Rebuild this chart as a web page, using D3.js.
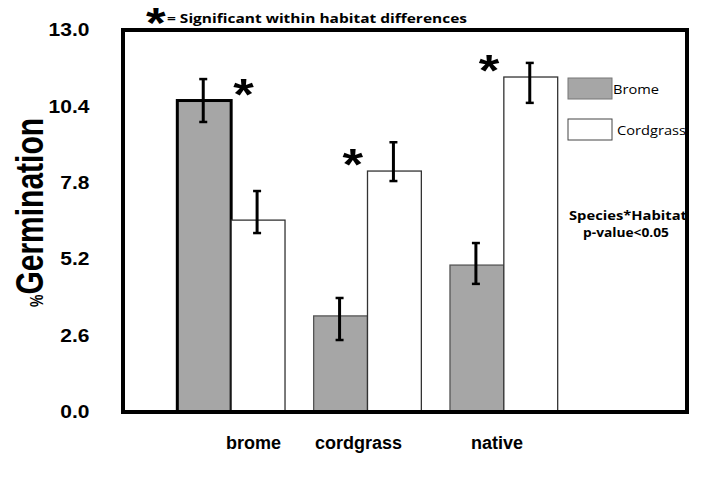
<!DOCTYPE html>
<html>
<head>
<meta charset="utf-8">
<script src="https://cdn.jsdelivr.net/npm/d3@7"></script>
<style>
    body { margin: 0; background: #fff; }
    svg { display: block; }
</style>
</head>
<body>
<script>
(function () {

    // data
    const categories = ['brome', 'cordgrass', 'native'];
    const series = ['Brome', 'Cordgrass'];
    const bromeMeans = [10.6, 3.27, 5.0];
    const cordgrassMeans = [6.53, 8.2, 11.4];
    const bromeUpper = [11.33, 3.88, 5.75];
    const bromeLower = [9.87, 2.45, 4.36];
    const cordgrassUpper = [7.52, 9.18, 11.88];
    const cordgrassLower = [6.09, 7.86, 10.52];
    const significant = [true, true, true];
    const yTicks = [0, 2.6, 5.2, 7.8, 10.4, 13.0];

    const W = 701, H = 481;
    const margin = {top: 30, right: 12, bottom: 69, left: 123};
    const width = W - margin.left - margin.right,
        height = H - margin.top - margin.bottom;
    const stretch = 1.2; // the original is a little wide
    const arial = '"Liberation Sans", Arial, sans-serif';
    const calibri = '"Open Sans", "Noto Sans", sans-serif';

    const rows = categories.map((c, i) => ({
        cat: c,
        bars: [
            {s: 'Brome', v: bromeMeans[i], hi: bromeUpper[i], lo: bromeLower[i]},
            {s: 'Cordgrass', v: cordgrassMeans[i], hi: cordgrassUpper[i], lo: cordgrassLower[i]}
        ],
        sig: significant[i]
    }));

    const svg = d3.select('body')
        .append('svg')
        .attr('width', W)
        .attr('height', H)
        .append('g')
        .attr('transform', 'translate(' + margin.left + ', ' + margin.top + ')');

    const scaleX = d3.scaleBand()
        .domain(categories)
        .range([40, 449])
        .paddingInner(0.21)
        .paddingOuter(0.105);

    const scaleSub = d3.scaleBand()
        .domain(series)
        .range([0, scaleX.bandwidth()]);

    // category labels sit on their own, slightly tighter spacing
    const scaleLabel = d3.scalePoint()
        .domain(categories)
        .range([158, 400]);

    const scaleY = d3.scaleLinear()
        .domain([0, 13])
        .range([height, 0]);

    // y axis (labels only, frame drawn later)
    const y_axis = d3.axisLeft()
        .scale(scaleY)
        .tickValues(yTicks)
        .tickFormat(d3.format('.1f'))
        .tickSize(0)
        .tickPadding(28);

    const yg = svg.append('g').call(y_axis);
    yg.select('.domain').remove();
    yg.selectAll('text')
        .attr('font-family', arial)
        .attr('font-weight', 'bold')
        .attr('font-size', 17.5)
        .attr('fill', '#000')
        .attr('transform', 'scale(' + stretch + ',1)');

    // bars
    const groups = svg.selectAll('.grp')
        .data(rows)
        .enter().append('g')
        .attr('class', 'grp')
        .attr('transform', d => 'translate(' + scaleX(d.cat) + ',0)');

    groups.selectAll('rect')
        .data(d => d.bars.map(b => Object.assign({cat: d.cat}, b)))
        .enter().append('rect')
        .attr('x', d => scaleSub(d.s))
        .attr('y', d => scaleY(d.v))
        .attr('width', scaleSub.bandwidth())
        .attr('height', d => height - scaleY(d.v))
        .attr('fill', d => d.s === 'Brome' ? '#a6a6a6' : '#fff')
        .attr('stroke', d => d.s === 'Brome' ? (d.cat === 'brome' ? '#000' : '#555') : '#333')
        .attr('stroke-width', d => d.s === 'Brome' && d.cat === 'brome' ? 3 : 1.3);

    // error bars
    const err = groups.selectAll('.err')
        .data(d => d.bars)
        .enter().append('g')
        .attr('class', 'err')
        .attr('transform', d => 'translate(' + (scaleSub(d.s) + scaleSub.bandwidth() / 2 - 1) + ',0)');

    err.append('line')
        .attr('y1', d => scaleY(d.hi))
        .attr('y2', d => scaleY(d.lo))
        .attr('stroke', '#000')
        .attr('stroke-width', 3);

    err.selectAll('.cap')
        .data(d => [d.hi, d.lo])
        .enter().append('line')
        .attr('x1', -4).attr('x2', 4)
        .attr('y1', d => scaleY(d))
        .attr('y2', d => scaleY(d))
        .attr('stroke', '#000')
        .attr('stroke-width', 2.5);

    // significance asterisks beside the taller bar
    groups.filter(d => d.sig).each(function (d) {
        const top = d.bars[0].v >= d.bars[1].v ? d.bars[0] : d.bars[1];
        const first = top === d.bars[0];
        const ax = first ? scaleSub(top.s) + scaleSub.bandwidth() + 2 : scaleSub(top.s) - 25;
        const ay = scaleY(top.v) - 11;
        d3.select(this).append('text')
            .attr('transform', 'translate(' + ax + ',' + (ay + 20) + ') scale(' + stretch + ',1)')
            .attr('font-family', arial)
            .attr('font-weight', 'bold')
            .attr('font-size', 44)
            .text('*');
    });

    // frame
    svg.append('rect')
        .attr('x', 0).attr('y', 0)
        .attr('width', width - 2).attr('height', height)
        .attr('fill', 'none')
        .attr('stroke', '#000')
        .attr('stroke-width', 4);

    // category labels
    svg.selectAll('.xlab')
        .data(categories)
        .enter().append('text')
        .attr('class', 'xlab')
        .attr('x', d => scaleLabel(d))
        .attr('y', height + 37)
        .attr('text-anchor', 'end')
        .attr('font-family', arial)
        .attr('font-weight', 'bold')
        .attr('font-size', 18)
        .text(d => d);

    // y title
    const yt = svg.append('text')
        .attr('transform', 'translate(' + (43 - margin.left) + ',' + (307 - margin.top) + ') scale(1.3,1) rotate(-90)')
        .attr('font-family', arial)
        .attr('font-weight', 'bold');
    yt.append('tspan').attr('font-size', 14).text('%');
    yt.append('tspan').attr('font-size', 30).text('Germination');

    // legend
    const legend = svg.selectAll('.leg')
        .data(series)
        .enter().append('g')
        .attr('class', 'leg')
        .attr('transform', (d, i) => 'translate(445,' + (48 + i * 41) + ')');

    legend.append('rect')
        .attr('width', 44).attr('height', 21)
        .attr('fill', d => d === 'Brome' ? '#a6a6a6' : '#fff')
        .attr('stroke', d => d === 'Brome' ? '#777' : '#444')
        .attr('stroke-width', 1);

    legend.append('text')
        .attr('x', (d, i) => i === 0 ? 45 : 49)
        .attr('y', 16)
        .attr('font-family', calibri)
        .attr('font-size', 13)
        .attr('textLength', (d, i) => i === 0 ? 46 : 69)
        .attr('lengthAdjust', 'spacingAndGlyphs')
        .text(d => d);

    // interaction note
    svg.append('text')
        .attr('x', 505).attr('y', 190)
        .attr('text-anchor', 'middle')
        .attr('font-family', calibri)
        .attr('font-weight', 'bold')
        .attr('font-size', 12)
        .attr('textLength', 118)
        .attr('lengthAdjust', 'spacingAndGlyphs')
        .text('Species*Habitat');

    svg.append('text')
        .attr('x', 503).attr('y', 207)
        .attr('text-anchor', 'middle')
        .attr('font-family', calibri)
        .attr('font-weight', 'bold')
        .attr('font-size', 12)
        .attr('textLength', 86)
        .attr('lengthAdjust', 'spacingAndGlyphs')
        .text('p-value<0.05');

    // top note
    svg.append('text')
        .attr('transform', 'translate(' + (146 - margin.left) + ',' + (37 - margin.top) + ') scale(' + stretch + ',1)')
        .attr('font-family', arial)
        .attr('font-weight', 'bold')
        .attr('font-size', 42)
        .text('*');

    svg.append('text')
        .attr('x', 167 - margin.left)
        .attr('y', 23 - margin.top)
        .attr('font-family', calibri)
        .attr('font-weight', 'bold')
        .attr('font-size', 13)
        .attr('textLength', 300)
        .attr('lengthAdjust', 'spacingAndGlyphs')
        .text('= Significant within habitat differences');

})();
</script>
</body>
</html>
